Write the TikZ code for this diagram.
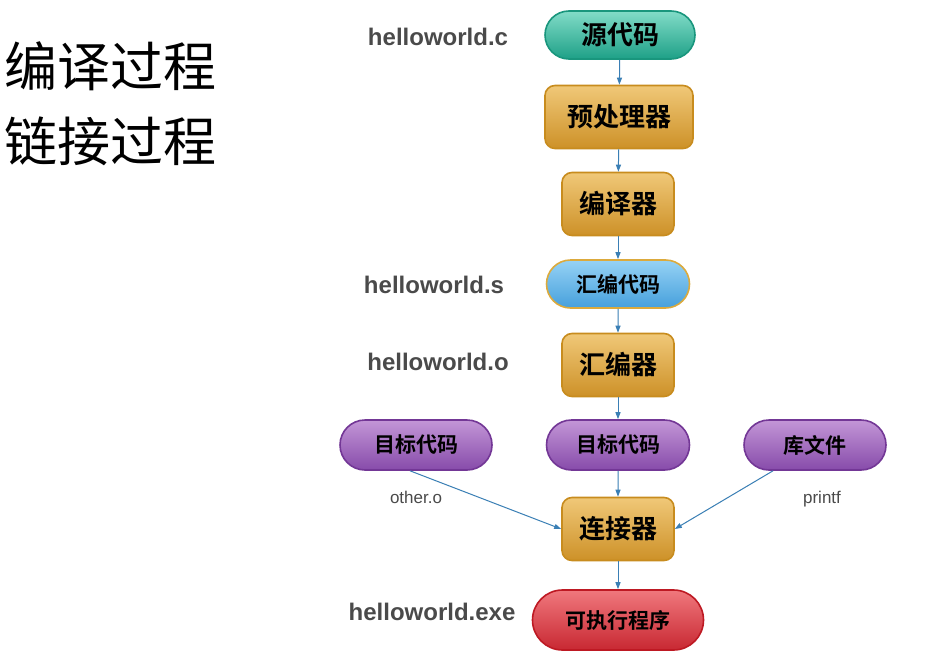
\documentclass[tikz,border=0pt]{standalone}
\usepackage{fontspec}
\setsansfont{Liberation Sans}
\newfontfamily\cjk{Noto Sans CJK SC}
\newfontfamily\cjkb{Noto Sans CJK SC Bold}
\usetikzlibrary{arrows.meta,shapes.misc}
\definecolor{arrowc}{HTML}{3A7FB5}
\definecolor{labc}{HTML}{4A4A4A}
\begin{document}
\begin{tikzpicture}[x=1pt,y=-1pt,
  base/.style={draw, line width=1.6pt, inner sep=0pt, align=center, font=\cjkb\fontsize{26}{28}\selectfont, text=black},
  pill/.style={base, rounded rectangle, minimum height=48pt},
  boxn/.style={base, rounded corners=10pt, minimum height=63pt},
  sm/.style={font=\cjkb\fontsize{21}{24}\selectfont},
  teal/.style={top color={rgb,255:red,130;green,220;blue,200}, bottom color={rgb,255:red,30;green,160;blue,135}, draw={rgb,255:red,25;green,150;blue,125}},
  gold/.style={top color={rgb,255:red,240;green,200;blue,120}, bottom color={rgb,255:red,205;green,145;blue,40}, draw={rgb,255:red,200;green,140;blue,30}},
  blue/.style={top color={rgb,255:red,150;green,210;blue,245}, bottom color={rgb,255:red,70;green,160;blue,220}, draw={rgb,255:red,220;green,170;blue,60}},
  purp/.style={top color={rgb,255:red,195;green,150;blue,215}, bottom color={rgb,255:red,135;green,75;blue,170}, draw={rgb,255:red,115;green,55;blue,150}},
  redc/.style={top color={rgb,255:red,240;green,120;blue,125}, bottom color={rgb,255:red,200;green,40;blue,50}, draw={rgb,255:red,190;green,25;blue,35}},
  conn/.style={draw=arrowc, line width=1pt, -{Triangle[length=7pt,width=5pt]}},
  lab/.style={font=\sffamily\bfseries\fontsize{24}{26}\selectfont, text=labc},
  slab/.style={font=\sffamily\fontsize{17}{19}\selectfont, text=labc},
  big/.style={font=\cjk\fontsize{53}{56}\selectfont, anchor=west, inner sep=0pt}]
\useasboundingbox (0,0) rectangle (939,653);
\fill[white] (0,0) rectangle (939,653);

\node[big] (t1) at (4,66) {编译过程};
\node[big] (t2) at (4,141) {链接过程};

\node[pill, teal, minimum width=150pt] (src) at (620,35) {源代码};
\node[boxn, gold, minimum width=148pt] (pre) at (619,117) {预处理器};
\node[boxn, gold, minimum width=112pt] (cmp) at (618,204) {编译器};
\node[pill, blue, sm, minimum width=143pt] (asm) at (618,284) {汇编代码};
\node[boxn, gold, minimum width=112pt] (as) at (618,365) {汇编器};
\node[pill, purp, sm, minimum width=152pt, minimum height=50pt] (ol) at (416,445) {目标代码};
\node[pill, purp, sm, minimum width=143pt, minimum height=50pt] (om) at (618,445) {目标代码};
\node[pill, purp, sm, minimum width=142pt, minimum height=50pt] (lib) at (815,445) {库文件};
\node[boxn, gold, minimum width=112pt] (lnk) at (618,529) {连接器};
\node[pill, redc, sm, minimum width=171pt, minimum height=60pt] (exe) at (618,620) {可执行程序};

\node[lab] (l1) at (438,37) {helloworld.c};
\node[lab] (l2) at (434,285) {helloworld.s};
\node[lab] (l3) at (438,362) {helloworld.o};
\node[lab] (l4) at (432,612) {helloworld.exe};
\node[slab] (l5) at (416,497) {other.o};
\node[slab] (l6) at (822,499) {printf};

\path[conn] (src) -- (pre);
\path[conn] (pre) -- (cmp);
\path[conn] (cmp) -- (asm);
\path[conn] (asm) -- (as);
\path[conn] (as) -- (om);
\path[conn] (om) -- (lnk);
\path[conn] (ol.south) ++(-6,0) coordinate (ols) -- (lnk.west);
\path[conn] (lib.south) ++(-42,0) coordinate (libs) -- (lnk.east);
\path[conn] (lnk) -- (exe);
\end{tikzpicture}
\end{document}
